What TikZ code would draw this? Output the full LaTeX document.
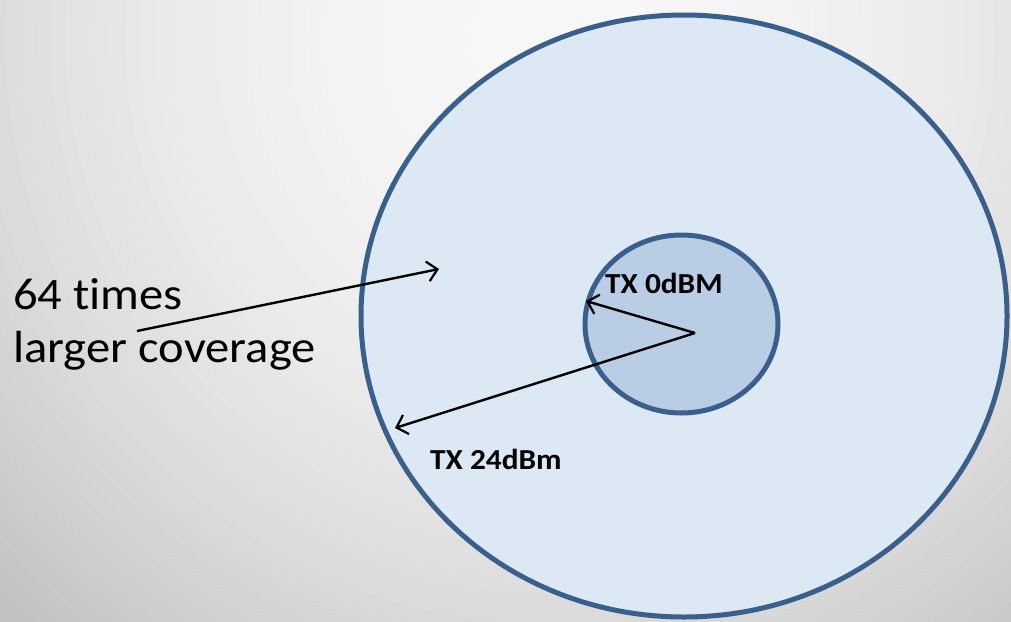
\documentclass[tikz,border=0pt]{standalone}
\usepackage{fontspec}
\setmainfont{Carlito}[Ligatures=NoCommon]
\usetikzlibrary{arrows.meta}

\definecolor{ringblue}{RGB}{58,95,140}
\definecolor{farfill}{RGB}{221,232,245}
\definecolor{nearfill}{RGB}{185,205,228}
\newcommand{\wide}[1]{\scalebox{1.08}[1]{#1}}

\tikzset{
  ring/.style={draw=ringblue, line width=5pt},
  radio/.style={-{Straight Barb[length=10pt,width=20pt,line width=2.2pt]}, line width=2.4pt, black},
  txlabel/.style={anchor=base west, inner sep=0pt, font=\bfseries\fontsize{29}{35}\selectfont},
  note/.style={anchor=base west, inner sep=0pt, font=\fontsize{45}{54}\selectfont},
}

\begin{document}
\begin{tikzpicture}[x=1pt,y=-1pt]
  \useasboundingbox (0,0) rectangle (1011,621);
  \clip (0,0) rectangle (1011,621);
  % backdrop, light near the top middle
  \foreach \r in {900,885,...,0} {
    \pgfmathsetmacro\greyamt{min(24,3+19*(\r/760)^2)}
    \fill[black!\greyamt] (560,40) circle [radius=\r];
  }

  % coverage areas
  \filldraw[ring, fill=farfill] (684,316) ellipse [x radius=323, y radius=301];
  \filldraw[ring, fill=nearfill] (681.5,324) ellipse [x radius=96.5, y radius=89];

  \coordinate (tx) at (695,333);
  \coordinate (near) at (586,301);
  \coordinate (far) at (395,428);
  \coordinate (tail) at (137,331);
  \coordinate (rim) at (439,269);

  \draw[radio] (tx) -- (near);
  \draw[radio] (tx) -- (far);
  \draw[radio] (tail) -- (rim);

  \node[txlabel] (lblnear) at (605,293) {\wide{TX 0dBM}};
  \node[txlabel] (lblfar) at (430,469) {\wide{TX 24dBm}};

  \node[note] (note1) at (13,309) {\wide{64 times}};
  \node[note] (note2) at (13,362) {\wide{larger coverage}};
\end{tikzpicture}
\end{document}
